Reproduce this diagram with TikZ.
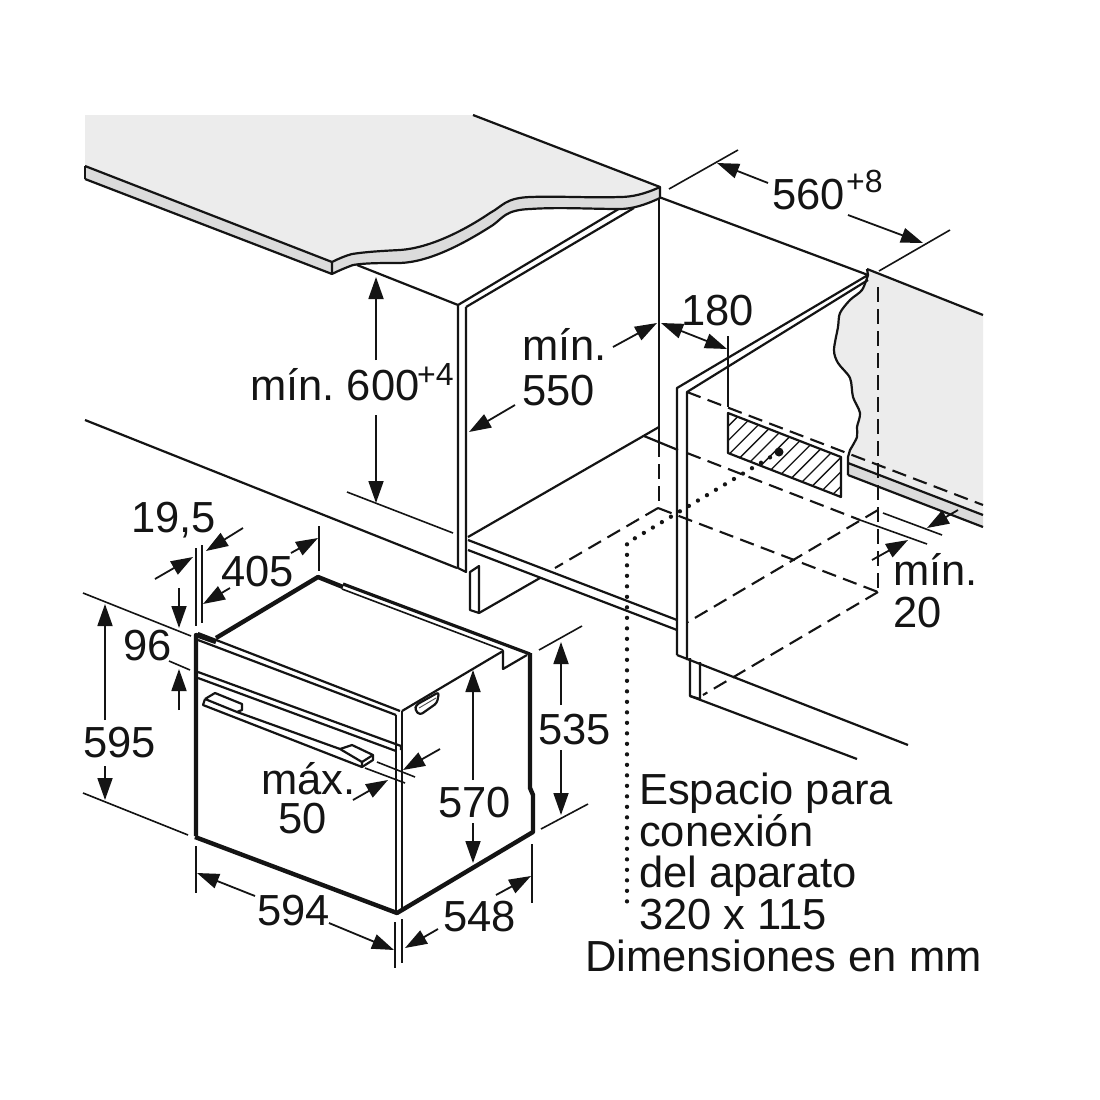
\documentclass[tikz,border=0pt]{standalone}
\usepackage{fontspec}
\setmainfont{Liberation Sans}
\frenchspacing
\usetikzlibrary{arrows.meta}
\tikzset{
  line/.style={line width=2.2pt, line join=round, color=black!92},
  thinline/.style={line width=1.6pt, color=black!92},
  hatchline/.style={line width=1.3pt, color=black!92},
  heavy/.style={line width=4.4pt, line join=round, color=black!92},
  hidden/.style={line width=2.1pt, color=black!92, dash pattern=on 14.5pt off 7.5pt},
  dots/.style={line width=4.3pt, color=black!92, line cap=round, dash pattern=on 0pt off 10.5pt},
  dimline/.style={line width=1.8pt, color=black!92, -{Triangle[length=22pt,width=15pt]}},
  dimboth/.style={line width=1.8pt, color=black!92, {Triangle[length=22pt,width=15pt]}-{Triangle[length=22pt,width=15pt]}},
  label/.style={anchor=base west, inner sep=0pt, font=\fontsize{43.5}{50}\selectfont, color=black!92},
  suplabel/.style={anchor=base west, inner sep=0pt, font=\fontsize{32}{36}\selectfont, color=black!92}
}
\definecolor{topgray}{gray}{0.925}
\definecolor{edgegray}{gray}{0.86}
\begin{document}
\begin{tikzpicture}[x=1pt,y=-1pt]
  \useasboundingbox (0,0) rectangle (1100,1100);
  \fill[white] (0,0) rectangle (1100,1100);

  % left cabinet
  \draw[line] (458,305) -- (622,207);
  \draw[line] (466,307) -- (634,208);
  \draw[line] (357,265) -- (458,305) -- (458,568) -- (466,572) -- (466,307);
  \draw[line] (659,190) -- (659,442);
  \draw[hidden] (659,442) -- (659,508);
  \draw[line] (468,537) -- (659,427);
  \draw[line] (644,436) -- (678,450);
  \draw[line] (468,540) -- (677,620);
  \draw[line] (468,550) -- (677,630);
  % plinth
  \draw[line] (470,572) -- (479,566) -- (479,613) -- (470,610) -- cycle;
  \draw[line] (479,613) -- (540,578);
  \draw[hidden] (658,508) -- (555,568);
  % floor and wall lines
  \draw[line] (85,420) -- (457,568);
  \draw[line] (659,197) -- (868,275);

  % worktop left
  \fill[topgray] (85,115) -- (473,115) -- (660,187)
    .. controls (645,194) and (632,197) .. (620,197)
    .. controls (590,198) and (560,196) .. (530,197)
    .. controls (505,198) and (503,206) .. (490,213)
    .. controls (465,230) and (430,248) .. (400,250)
    .. controls (380,251) and (365,252) .. (352,254)
    .. controls (345,256) and (340,258) .. (332,262) -- (85,166) -- cycle;
  \fill[edgegray] (85,166) -- (332,262)
    .. controls (340,258) and (345,256) .. (352,254)
    .. controls (365,252) and (380,251) .. (400,250)
    .. controls (430,248) and (465,230) .. (490,213)
    .. controls (503,206) and (505,198) .. (530,197)
    .. controls (560,196) and (590,198) .. (620,197)
    .. controls (632,197) and (645,194) .. (660,187)
    -- (660,198)
    .. controls (645,205) and (632,209) .. (620,209)
    .. controls (590,209) and (560,207) .. (530,209)
    .. controls (505,210) and (503,218) .. (493,225)
    .. controls (465,243) and (430,262) .. (400,263)
    .. controls (380,263) and (365,263) .. (353,265)
    .. controls (345,268) and (340,270) .. (332,274) -- (85,179) -- cycle;
  \draw[line] (473,115) -- (660,187) -- (660,198)
    .. controls (645,205) and (632,209) .. (620,209)
    .. controls (590,209) and (560,207) .. (530,209)
    .. controls (505,210) and (503,218) .. (493,225)
    .. controls (465,243) and (430,262) .. (400,263)
    .. controls (380,263) and (365,263) .. (353,265)
    .. controls (345,268) and (340,270) .. (332,274) -- (332,262)
    .. controls (340,258) and (345,256) .. (352,254)
    .. controls (365,252) and (380,251) .. (400,250)
    .. controls (430,248) and (465,230) .. (490,213)
    .. controls (503,206) and (505,198) .. (530,197)
    .. controls (560,196) and (590,198) .. (620,197)
    .. controls (632,197) and (645,194) .. (660,187);
  \draw[line] (85,166) -- (332,262);
  \draw[line] (85,179) -- (332,274);
  \draw[line] (85,166) -- (85,179);

  % worktop right
  \fill[topgray] (867,269) -- (983,315) -- (983,515) -- (848,463) -- (848,457)
    -- plot[smooth] coordinates {(850,450) (857,437) (857,427) (860,413) (853,397) (850,378) (838,363) (834,350) (838,327) (840,313) (850,300) (862,290) (868,275)} -- cycle;
  \fill[edgegray] (848,463) -- (983,515) -- (983,527) -- (848,475) -- cycle;
  \draw[line] (867,269) -- (983,315);
  \draw[line] (848,475) -- (848,457) -- plot[smooth] coordinates {(850,450) (857,437) (857,427) (860,413) (853,397) (850,378) (838,363) (834,350) (838,327) (840,313) (850,300) (862,290) (868,275)} -- (867,269);
  \draw[line] (848,463) -- (983,515);
  \draw[line] (848,475) -- (983,527);

  % right cabinet
  \draw[line] (677,655) -- (677,388) -- (868,275);
  \draw[line] (687,660) -- (687,392) -- (868,280);
  \draw[line] (677,655) -- (908,745);
  \draw[line] (690,658) -- (690,696) -- (700,699) -- (700,662);
  \draw[line] (690,696) -- (857,759);
  \draw[hidden] (687,392) -- (983,505);
  \draw[hidden] (687,453) -- (860,520);
  \draw[hidden] (658,508) -- (878,592);
  \draw[hidden] (878,510) -- (688,622);
  \draw[hidden] (878,592) -- (703,695);
  \draw[hidden] (878,287) -- (878,592);

  % connection space
  \draw[line] (728,413) -- (841,457) -- (841,497) -- (728,453) -- cycle;
  \begin{scope}
    \clip (728,413) -- (841,457) -- (841,497) -- (728,453) -- cycle;
    \foreach \c in {1140,1154.4,...,1340}
      \draw[hatchline] (\c-400,400) -- (\c-520,520);
  \end{scope}
  \fill[black!92] (779,452) circle (4.5pt);
  \draw[dots] (779,452) -- (627,543) -- (627,905);

  % oven
  \draw[heavy] (196,836) -- (196,635) -- (216,642);
  \draw[heavy] (195,837) -- (397,913) -- (533,832) -- (533,795) -- (530,788) -- (530,653);
  \draw[heavy] (216,638) -- (318,577) -- (343,587);
  \draw[line, line width=3.2pt] (343,584) -- (530,654);
  \draw[thinline] (342,589) -- (503,650);
  \draw[line] (198,633) -- (400,711);
  \draw[line] (198,640) -- (396,715);
  \draw[line] (396,715) -- (396,913);
  \draw[line] (402,711) -- (402,910);
  \draw[line] (402,711) -- (503,651) -- (503,669) -- (527,655);
  \draw[line] (198,672) -- (401,746) -- (401,750);
  \draw[line] (198,678) -- (396,751);
  % handle
  \draw[line] (205,699) -- (203,705) -- (362,767) -- (373,760) -- (373,755) -- (352,745) -- (340,749);
  \draw[line] (205,699) -- (215,693) -- (242,704) -- (242,710) -- (237,712) -- (205,699);
  \draw[line] (237,712) -- (340,749) -- (362,762) -- (362,767);
  \draw[line] (362,762) -- (373,755);
  % recess
  \draw[line, rounded corners=3pt] (416,705) -- (439,692) -- (437,703) -- (420,715) -- (415,710) -- cycle;
  \draw[line width=0.9pt, color=black!70] (419,708) -- (436,698);

  % extension lines
  \draw[thinline] (669,189) -- (738,150);
  \draw[thinline] (879,271) -- (950,230);
  \draw[thinline] (347,492) -- (453,533);
  \draw[thinline] (728,336) -- (728,407);
  \draw[thinline] (883,513) -- (942,535);
  \draw[thinline] (860,520) -- (927,544);
  \draw[thinline] (196,548) -- (196,626);
  \draw[thinline] (202,545) -- (202,623);
  \draw[thinline] (319,526) -- (319,571);
  \draw[thinline] (169,661) -- (190,670);
  \draw[thinline] (83,593) -- (191,636);
  \draw[thinline] (83,793) -- (188,835);
  \draw[thinline] (377,762) -- (415,777);
  \draw[thinline] (365,768) -- (405,783);
  \draw[thinline] (539,650) -- (582,626);
  \draw[thinline] (541,829) -- (588,804);
  \draw[thinline] (196,846) -- (196,893);
  \draw[thinline] (395,922) -- (395,968);
  \draw[thinline] (402,919) -- (402,963);
  \draw[thinline] (532,844) -- (532,903);

  % dimensions
  \draw[dimline] (768,183) -- (717,163);
  \draw[dimline] (848,215) -- (923,243);
  \draw[dimline] (376,360) -- (376,277);
  \draw[dimline] (376,415) -- (376,503);
  \draw[dimline] (515,405) -- (469,432);
  \draw[dimline] (613,347) -- (657,323);
  \draw[dimboth] (661,323) -- (727,349);
  \draw[dimline] (872,560) -- (908,540);
  \draw[dimline] (958,510) -- (927,528);
  \draw[dimline] (155,579) -- (193,557);
  \draw[dimline] (243,528) -- (206,551);
  \draw[dimline] (291,553) -- (318,538);
  \draw[dimline] (230,588) -- (203,604);
  \draw[dimline] (179,588) -- (179,628);
  \draw[dimline] (179,710) -- (179,669);
  \draw[dimline] (105,720) -- (105,604);
  \draw[dimline] (105,766) -- (105,800);
  \draw[dimline] (440,749) -- (403,770);
  \draw[dimline] (353,800) -- (388,780);
  \draw[dimline] (473,780) -- (473,670);
  \draw[dimline] (473,823) -- (473,863);
  \draw[dimline] (561,705) -- (561,642);
  \draw[dimline] (561,750) -- (561,815);
  \draw[dimline] (255,896) -- (197,873);
  \draw[dimline] (329,923) -- (394,950);
  \draw[dimline] (438,929) -- (405,948);
  \draw[dimline] (496,895) -- (531,876);

  % labels
  \node[label] (width) at (772,209) {560};
  \node[suplabel] (widthTol) at (846,192) {+8};
  \node[label] (height) at (250,400) {mín. 600};
  \node[suplabel] (heightTol) at (417,385) {+4};
  \node[label] (depthA) at (522,360) {mín.};
  \node[label] (depthB) at (522,405) {550};
  \node[label] (offset) at (681,325) {180};
  \node[label] (gapA) at (893,585) {mín.};
  \node[label] (gapB) at (893,627) {20};
  \node[label] (frontThick) at (131,532) {19,5};
  \node[label] (topDepth) at (221,586) {405};
  \node[label] (panel) at (123,660) {96};
  \node[label] (ovenHeight) at (83,757) {595};
  \node[label] (handleA) at (261,794) {máx.};
  \node[label] (handleB) at (278,833) {50};
  \node[label] (bodyHeight) at (438,817) {570};
  \node[label] (backHeight) at (538,744) {535};
  \node[label] (ovenWidth) at (257,925) {594};
  \node[label] (ovenDepth) at (443,931) {548};
  \node[label] (spaceA) at (639,804) {Espacio para};
  \node[label] (spaceB) at (639,846) {conexión};
  \node[label] (spaceC) at (639,887) {del aparato};
  \node[label] (spaceD) at (639,929) {320 x 115};
  \node[label] (units) at (585,971) {Dimensiones en mm};
\end{tikzpicture}
\end{document}
